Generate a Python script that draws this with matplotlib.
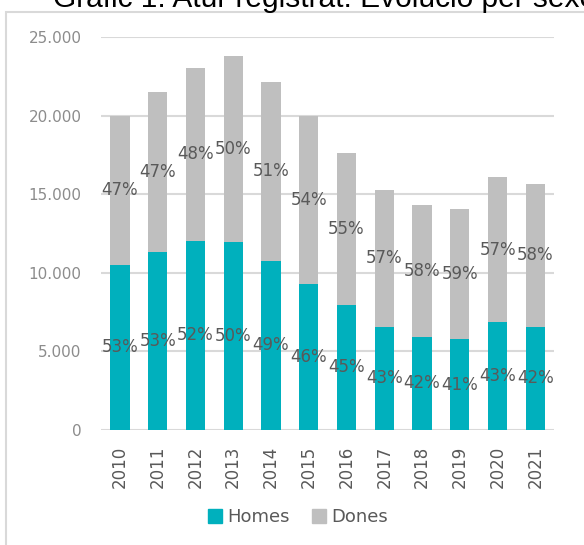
import numpy as np
import matplotlib.pyplot as plt
from matplotlib.patches import Rectangle, Patch
from matplotlib.ticker import FuncFormatter

years = ['2010', '2011', '2012', '2013', '2014', '2015',
         '2016', '2017', '2018', '2019', '2020', '2021']
homes = [10510, 11320, 12040, 11980, 10770, 9260, 7960, 6580, 5940, 5790, 6860, 6580]
total = [20000, 21530, 23040, 23780, 22150, 20000, 17630, 15290, 14330, 14060, 16100, 15630]
dones = [t - h for t, h in zip(total, homes)]
pct_homes = ['53%', '53%', '52%', '50%', '49%', '46%', '45%', '43%', '42%', '41%', '43%', '42%']
pct_dones = ['47%', '47%', '48%', '50%', '51%', '54%', '55%', '57%', '58%', '59%', '57%', '58%']

teal = '#00B0BD'
grey = '#BFBFBF'
text_col = '#595959'

fig = plt.figure(figsize=(5.84, 5.45), dpi=100)
ax = fig.add_axes([0.173, 0.211, 0.776, 0.721])

x = np.arange(len(years))
w = 0.51
ax.bar(x, homes, w, color=teal, zorder=3)
ax.bar(x, dones, w, bottom=homes, color=grey, zorder=3)

for i in range(len(years)):
    ax.text(x[i], homes[i] / 2, pct_homes[i], ha='center', va='center',
            fontsize=12, color=text_col, zorder=4)
    ax.text(x[i], homes[i] + dones[i] / 2, pct_dones[i], ha='center', va='center',
            fontsize=12, color=text_col, zorder=4)

ax.set_xlim(-0.5, len(years) - 0.5)
ax.set_ylim(0, 25000)
ax.set_yticks(np.arange(0, 25001, 5000))
ax.yaxis.set_major_formatter(FuncFormatter(lambda v, p: f'{int(v):,}'.replace(',', '.')))
ax.set_xticks(x)
ax.set_xticklabels(years, rotation=90)
ax.tick_params(axis='y', length=0, pad=14, labelsize=11, labelcolor='#8C8C8C')
ax.tick_params(axis='x', length=0, pad=11, labelsize=12, labelcolor=text_col)
ax.grid(axis='y', color='#D9D9D9', linewidth=1.5, zorder=0)
for s in ax.spines.values():
    s.set_visible(False)

handles = [Patch(color=teal, label='Homes'), Patch(color=grey, label='Dones')]
fig.legend(handles=handles, loc='center', bbox_to_anchor=(0.51, 0.051), ncol=2,
           frameon=False, fontsize=13, labelcolor=text_col,
           handlelength=0.8, handleheight=0.8, handletextpad=0.3, columnspacing=1.2)

# outer frame, cut off on the right and bottom
fig.patches.append(Rectangle((0.0103, -0.1), 1.2, 1.078, transform=fig.transFigure,
                             fill=False, edgecolor='#D9D9D9', linewidth=1.5))

# title, mostly cut off at the top edge as in the source image
fig.text(0.09, 0.987, 'Gràfic 1. Atur registrat. Evolució per sexe',
         fontsize=21.5, family='Liberation Sans', color='black',
         va='baseline', ha='left')

fig.savefig('out.png', dpi=100)
